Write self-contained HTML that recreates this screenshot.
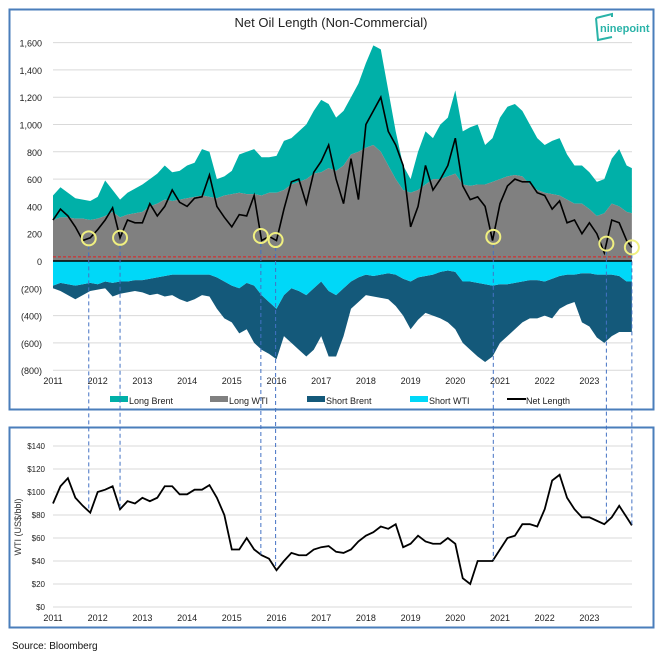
<!DOCTYPE html>
<html><head><meta charset="utf-8">
<style>
body{margin:0;background:#fff;font-family:"Liberation Sans",sans-serif;}
svg{display:block}
</style></head>
<body>
<svg id="c" width="662" height="655" viewBox="0 0 662 655" xmlns="http://www.w3.org/2000/svg">
<rect x="9.5" y="9.5" width="644" height="400" fill="none" stroke="#4a7ebb" stroke-width="2"/>
<rect x="9.5" y="427.5" width="644" height="200" fill="none" stroke="#4a7ebb" stroke-width="2"/>
<text x="331" y="27" text-anchor="middle" font-size="13" fill="#222">Net Oil Length (Non-Commercial)</text>
<g>
<path d="M596 18 L612 14 L612 17 M596 18 L598 40 L612 37" fill="none" stroke="#2ab3a8" stroke-width="2"/>
<text x="600" y="32" font-size="11" fill="#2ab3a8" font-weight="bold">ninepoint</text>
</g>
<g id="topg"></g>
<g id="botg"></g>
<g id="linkg"></g>
<text x="12" y="649" font-size="10" fill="#111">Source: Bloomberg</text>
</svg>
<script>
const longWTI=[300,320,320,310,310,300, 310,330,360,320,340,350, 360,400,420,450,440,450, 460,470,480,470,460,480, 490,500,490,490,480,500, 500,520,560,580,600,640, 650,680,660,700,780,800, 830,850,800,700,600,520, 500,520,560,600,600,620, 640,560,550,560,560,580, 600,620,630,620,560,520, 500,490,480,450,420,420, 380,330,350,420,400,360, 350];
const longBrent=[180,220,180,150,140,140, 160,260,160,130,160,180, 200,200,220,250,210,210, 240,250,340,330,140,140, 170,280,310,330,280,260, 270,360,340,370,400,460, 530,470,390,400,420,500, 620,730,750,550,350,180, 100,280,390,300,400,430, 610,390,430,440,290,320, 450,510,520,480,440,380, 350,390,420,330,280,280, 270,250,250,330,420,340, 330];
const shortWTI=[180,160,170,180,170,160, 170,150,160,150,150,140, 140,130,120,110,100,100, 100,100,100,100,120,150, 180,200,160,180,250,300, 350,250,200,220,250,200, 150,220,250,200,150,120, 100,110,100,90,100,130, 150,120,110,100,80,70, 80,150,150,160,170,180, 170,170,160,150,140,140, 150,130,110,100,100,90, 90,100,100,100,110,150, 150];
const shortBrent=[20,60,80,100,80,60, 40,50,100,90,80,80, 90,120,120,150,150,180, 200,180,150,160,230,270, 270,330,340,420,400,380, 370,300,400,430,450,450, 400,480,450,350,200,180, 150,150,170,190,230,270, 350,310,270,300,340,380, 420,450,500,540,570,520, 430,380,340,300,280,280, 250,290,240,220,200,360, 390,460,500,450,410,370, 370];
const netLength=[300,380,330,250,150,170, 230,300,390,170,300,280, 280,420,330,400,520,430, 400,460,470,630,400,320, 250,340,330,480,150,180, 150,380,580,600,420,650, 730,850,600,420,750,450, 1000,1100,1200,950,850,700, 250,400,700,520,600,700, 900,550,450,470,400,150, 420,550,600,580,580,500, 480,380,440,280,300,200, 280,200,60,300,280,150, 100];
const wti=[90,105,112,95,88,82, 100,102,105,85,92,90, 95,92,95,105,105,98, 98,102,102,106,95,80, 50,50,60,50,45,42, 32,40,47,45,45,50, 52,53,48,47,50,57, 62,65,70,68,72,52, 55,62,57,55,55,60, 55,25,20,40,40,40, 50,60,62,72,72,70, 85,110,115,95,85,78, 78,75,72,78,88,78, 71];
const dates=[];for(let i=0;i<78;i++)dates.push(2011+i/6);dates.push(2023.95);
const years=[2011,2012,2013,2014,2015,2016,2017,2018,2019,2020,2021,2022,2023];
const topTicks=[1600,1400,1200,1000,800,600,400,200,0,-200,-400,-600,-800];
const botTicks=[0,20,40,60,80,100,120,140];
const lowPoints=[2011.8,2012.5,2015.65,2015.98,2020.85,2023.38,2023.95];
const redLine=30;

const NS="http://www.w3.org/2000/svg";
const X=t=>53+(t-2011)*44.7;
const Y1=v=>261-v*27.3/200;
const Y2=v=>607-v*161/140;
function el(tag,attrs,parent){const e=document.createElementNS(NS,tag);for(const k in attrs)e.setAttribute(k,attrs[k]);parent.appendChild(e);return e;}
function interp(arr,t){for(let i=0;i<dates.length-1;i++){if(t<=dates[i+1]){const f=(t-dates[i])/(dates[i+1]-dates[i]);return arr[i]+f*(arr[i+1]-arr[i]);}}return arr[arr.length-1];}
const topG=document.getElementById('topg'),botG=document.getElementById('botg'),linkG=document.getElementById('linkg');

topTicks.forEach(v=>{
  const g=el('line',{x1:53,x2:632,y1:Y1(v),y2:Y1(v),stroke:'#d9d9d9','stroke-width':1},topG);
  
  
  const t=el('text',{x:42,y:Y1(v)+4,'text-anchor':'end','font-size':'9',fill:'#222'},topG);
  t.textContent=v<0?'('+Math.abs(v)+')':v.toLocaleString('en-US');
  
  
});
function area(upper,lower,fill,name){
  let d='M'+dates.map((t,i)=>X(t)+','+Y1(upper[i])).join(' L');
  for(let i=dates.length-1;i>=0;i--)d+=' L'+X(dates[i])+','+Y1(lower[i]);
  const p=el('path',{d:d+'Z',fill:fill},topG);
  
  
}
const zero=dates.map(()=>0);
const lt=longWTI.map((v,i)=>v+longBrent[i]);
const sw=shortWTI.map(v=>-v);
const st=shortWTI.map((v,i)=>-(v+shortBrent[i]));
area(lt,longWTI,'#00b0a8','long-brent-area');
area(longWTI,zero,'#808080','long-wti-area');
area(sw,st,'#14597a','short-brent-area');
area(zero,sw,'#00d8f8','short-wti-area');
let l=el('line',{x1:53,x2:632,y1:Y1(0),y2:Y1(0),stroke:'#000','stroke-width':1.5},topG);


l=el('line',{x1:53,x2:632,y1:Y1(redLine),y2:Y1(redLine),stroke:'#e02020','stroke-width':1,'stroke-dasharray':'3,2'},topG);


const nl=el('path',{d:'M'+dates.map((t,i)=>X(t)+','+Y1(netLength[i])).join(' L'),fill:'none',stroke:'#000','stroke-width':1.6},topG);


years.forEach(y=>{
  const t=el('text',{x:X(y),y:384,'text-anchor':'middle','font-size':'9',fill:'#222'},topG);t.textContent=y;
  
  
  const t2=el('text',{x:X(y),y:621,'text-anchor':'middle','font-size':'9',fill:'#222'},botG);t2.textContent=y;
  
  
});
const legend=[['Long Brent','#00b0a8',110],['Long WTI','#808080',210],['Short Brent','#14597a',307],['Short WTI','#00d8f8',410]];
legend.forEach(([n,c,x])=>{
  const r=el('rect',{x:x,y:396,width:18,height:6,fill:c},topG);
  
  
  const t=el('text',{x:x+19,y:404,'font-size':'9',fill:'#222'},topG);t.textContent=n;
  
  
});
l=el('line',{x1:507,x2:526,y1:399,y2:399,stroke:'#000','stroke-width':2},topG);


let lt2=el('text',{x:526,y:404,'font-size':'9',fill:'#222'},topG);lt2.textContent='Net Length';



botTicks.forEach(v=>{
  const g=el('line',{x1:53,x2:632,y1:Y2(v),y2:Y2(v),stroke:'#d9d9d9','stroke-width':1},botG);
  
  
  const t=el('text',{x:45,y:Y2(v)+3,'text-anchor':'end','font-size':'8',fill:'#222'},botG);t.textContent='$'+v;
  
  
});
const yt=el('text',{x:0,y:0,transform:'translate(21,527) rotate(-90)','text-anchor':'middle','font-size':'9',fill:'#333'},botG);yt.textContent='WTI (US$/bbl)';


const wl=el('path',{d:'M'+dates.map((t,i)=>X(t)+','+Y2(wti[i])).join(' L'),fill:'none',stroke:'#000','stroke-width':1.8},botG);



lowPoints.forEach(t=>{
  const x=X(t),yn=Y1(interp(netLength,t)),yw=Y2(interp(wti,t));
  const d=el('line',{x1:x,x2:x,y1:yn+7,y2:yw,stroke:'#4472c4','stroke-width':1,'stroke-dasharray':'4,3'},linkG);
  
  
  const c=el('circle',{cx:x,cy:yn,r:7,fill:'none',stroke:'#f0f080','stroke-width':2},linkG);
  
  
});
</script>
</body></html>
